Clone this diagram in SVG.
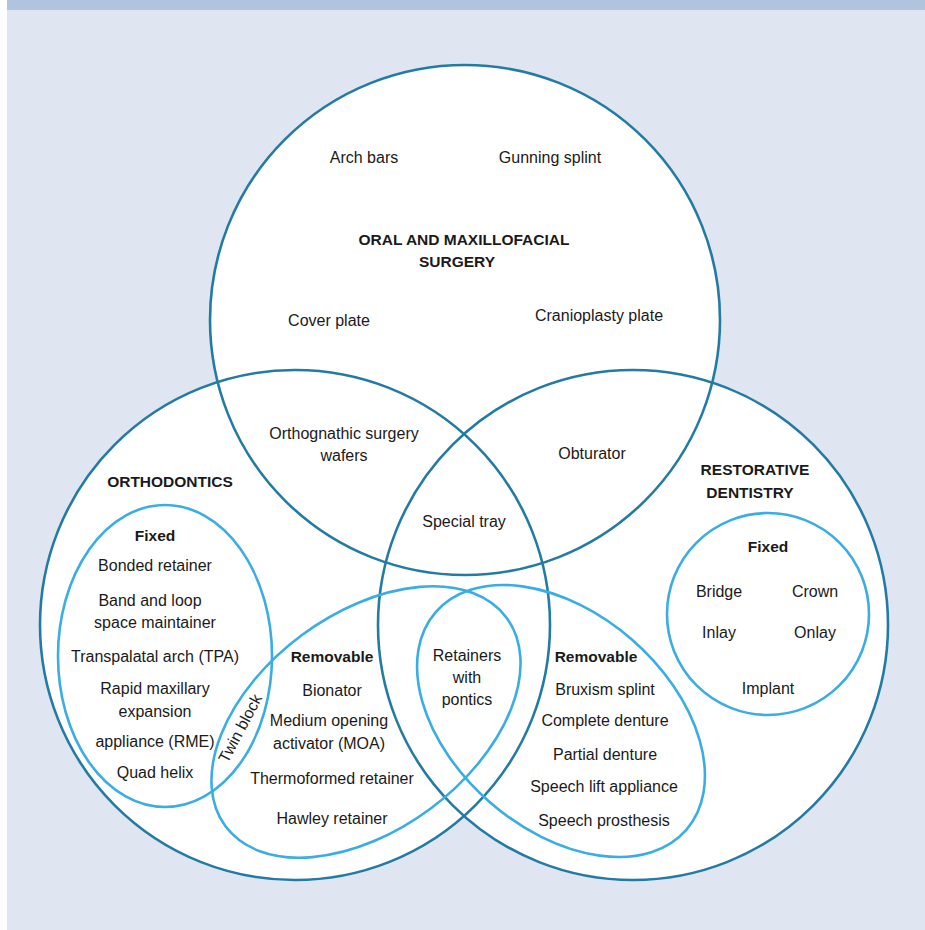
<svg xmlns="http://www.w3.org/2000/svg" width="925" height="930" viewBox="0 0 925 930">
<style>
.big{fill:none;stroke:#237ba3;stroke-width:2.6}
.sub{fill:none;stroke:#3aade2;stroke-width:2.6}
text{font-family:"Liberation Sans",Arial,sans-serif;font-size:16px;fill:#1a1a1a;text-anchor:middle}
.b{font-weight:bold;font-size:15.5px}
</style>
<rect x="0" y="0" width="925" height="930" fill="#ffffff"/>
<rect x="7" y="0" width="918" height="930" fill="#dfe6f2"/>
<rect x="7" y="0" width="918" height="10" fill="#b0c4de"/>
<g id="fills">
<circle cx="465" cy="320" r="255" fill="#fff"/>
<circle cx="295" cy="625" r="255" fill="#fff"/>
<circle cx="633" cy="625" r="255" fill="#fff"/>
</g>
<g id="oms">
<circle class="big" cx="465" cy="320" r="255"/>
<text x="364" y="163">Arch bars</text>
<text x="550" y="163">Gunning splint</text>
<text class="b" x="464" y="245">ORAL AND MAXILLOFACIAL</text>
<text class="b" x="457" y="267">SURGERY</text>
<text x="329" y="326">Cover plate</text>
<text x="599" y="321">Cranioplasty plate</text>
</g>
<g id="ortho">
<circle class="big" cx="295" cy="625" r="255"/>
<text class="b" x="170" y="487">ORTHODONTICS</text>
</g>
<g id="resto">
<circle class="big" cx="633" cy="625" r="255"/>
<text class="b" x="755" y="475">RESTORATIVE</text>
<text class="b" x="750" y="498">DENTISTRY</text>
</g>
<g id="overlaps">
<text x="344" y="439">Orthognathic surgery</text>
<text x="344" y="461">wafers</text>
<text x="592" y="459">Obturator</text>
<text x="464" y="527">Special tray</text>
</g>
<g id="ortho-fixed">
<ellipse class="sub" cx="165" cy="656" rx="107" ry="151"/>
<text class="b" x="155" y="541">Fixed</text>
<text x="155" y="571">Bonded retainer</text>
<text x="150" y="606">Band and loop</text>
<text x="155" y="628">space maintainer</text>
<text x="155" y="662">Transpalatal arch (TPA)</text>
<text x="155" y="694">Rapid maxillary</text>
<text x="155" y="717">expansion</text>
<text x="155" y="747">appliance (RME)</text>
<text x="155" y="778">Quad helix</text>
</g>
<g id="twin-block">
<text x="0" y="0" transform="translate(245,731) rotate(-62)">Twin block</text>
</g>
<g id="ortho-removable">
<ellipse class="sub" cx="366" cy="722" rx="175" ry="108" transform="rotate(-36.6 366 722)"/>
<text class="b" x="332" y="662">Removable</text>
<text x="332" y="696">Bionator</text>
<text x="329" y="726">Medium opening</text>
<text x="329" y="749">activator (MOA)</text>
<text x="332" y="784">Thermoformed retainer</text>
<text x="332" y="824">Hawley retainer</text>
</g>
<g id="shared-removable">
<text x="467" y="661">Retainers</text>
<text x="467" y="683">with</text>
<text x="467" y="705">pontics</text>
</g>
<g id="resto-removable">
<ellipse class="sub" cx="561" cy="721" rx="166" ry="108" transform="rotate(41 561 721)"/>
<text class="b" x="596" y="662">Removable</text>
<text x="605" y="695">Bruxism splint</text>
<text x="605" y="726">Complete denture</text>
<text x="605" y="760">Partial denture</text>
<text x="604" y="792">Speech lift appliance</text>
<text x="604" y="826">Speech prosthesis</text>
</g>
<g id="resto-fixed">
<circle class="sub" cx="768" cy="614" r="101"/>
<text class="b" x="768" y="552">Fixed</text>
<text x="719" y="597">Bridge</text>
<text x="815" y="597">Crown</text>
<text x="719" y="638">Inlay</text>
<text x="815" y="638">Onlay</text>
<text x="768" y="694">Implant</text>
</g>
</svg>
